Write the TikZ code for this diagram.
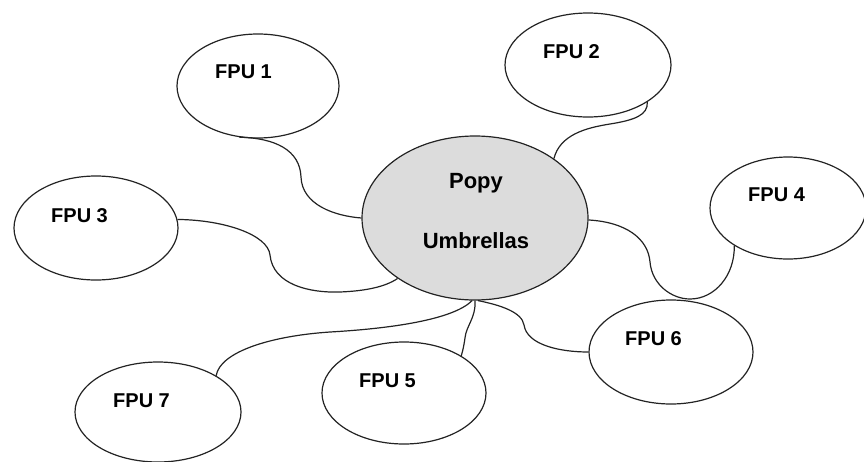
\documentclass[tikz,border=0pt]{standalone}
\usepackage{fontspec}
\setmainfont{Liberation Sans}
\usetikzlibrary{shapes.geometric}
\definecolor{hubfill}{RGB}{220,220,220}
\definecolor{linec}{RGB}{35,35,35}
\begin{document}
\begin{tikzpicture}[x=1pt,y=-1pt,
  bubble/.style={ellipse,draw=linec,line width=1.2pt,inner sep=0pt,fill=white},
  lbl/.style={anchor=base west,inner sep=0pt,font=\fontsize{20}{22}\selectfont\bfseries},
  hublbl/.style={anchor=base,inner sep=0pt,font=\fontsize{22}{24}\selectfont\bfseries},
  link/.style={draw=linec,line width=1.2pt}]
\useasboundingbox (0,0) rectangle (864,461);
\node[bubble,fill=hubfill,minimum width=226pt,minimum height=164pt] (c) at (475,218) {};
\node[bubble,minimum width=162pt,minimum height=104pt] (f1) at (258,86) {};
\node[bubble,minimum width=166pt,minimum height=104pt] (f2) at (588,65) {};
\node[bubble,minimum width=164pt,minimum height=104pt] (f3) at (96,228) {};
\node[bubble,minimum width=156pt,minimum height=102pt] (f4) at (788,208) {};
\node[bubble,minimum width=164pt,minimum height=102pt] (f5) at (404,393) {};
\node[bubble,minimum width=164pt,minimum height=104pt] (f6) at (671,352) {};
\node[bubble,minimum width=166pt,minimum height=100pt] (f7) at (158,412) {};

\path[link] (f1.250) .. controls (275,138) and (300,150) .. (301,177)
  .. controls (302,205) and (335,216) .. (c.180);
\path[link] (f3.6) .. controls (225,220) and (268,235) .. (270,255)
  .. controls (273,285) and (310,293) .. (340,292)
  .. controls (365,291) and (385,287) .. (c.218);
\path[link] (c.37) .. controls (560,135) and (585,128) .. (610,124)
  .. controls (635,120) and (648,115) .. (f2.328);
\path[link] (c.359) .. controls (625,222) and (648,238) .. (650,262)
  .. controls (652,285) and (672,299) .. (690,299)
  .. controls (715,299) and (735,275) .. (f4.215);
\path[link] (c.272) .. controls (500,305) and (522,312) .. (524,325)
  .. controls (527,345) and (560,352) .. (f6.180);
\path[link] (c.270) .. controls (476,318) and (466,326) .. (465,338)
  .. controls (464,345) and (463,350) .. (f5.33);
\path[link] (c.268) .. controls (455,318) and (400,328) .. (330,332)
  .. controls (270,336) and (220,352) .. (f7.32);

\node[hublbl] (hp) at (476,188) {Popy};
\node[hublbl] (hu) at (476,248) {Umbrellas};
\node[lbl] (t1) at (215,78) {FPU 1};
\node[lbl] (t2) at (543,58) {FPU 2};
\node[lbl] (t3) at (51,222) {FPU 3};
\node[lbl] (t4) at (748,201) {FPU 4};
\node[lbl] (t5) at (359,387) {FPU 5};
\node[lbl] (t6) at (625,345) {FPU 6};
\node[lbl] (t7) at (113,407) {FPU 7};
\end{tikzpicture}
\end{document}
